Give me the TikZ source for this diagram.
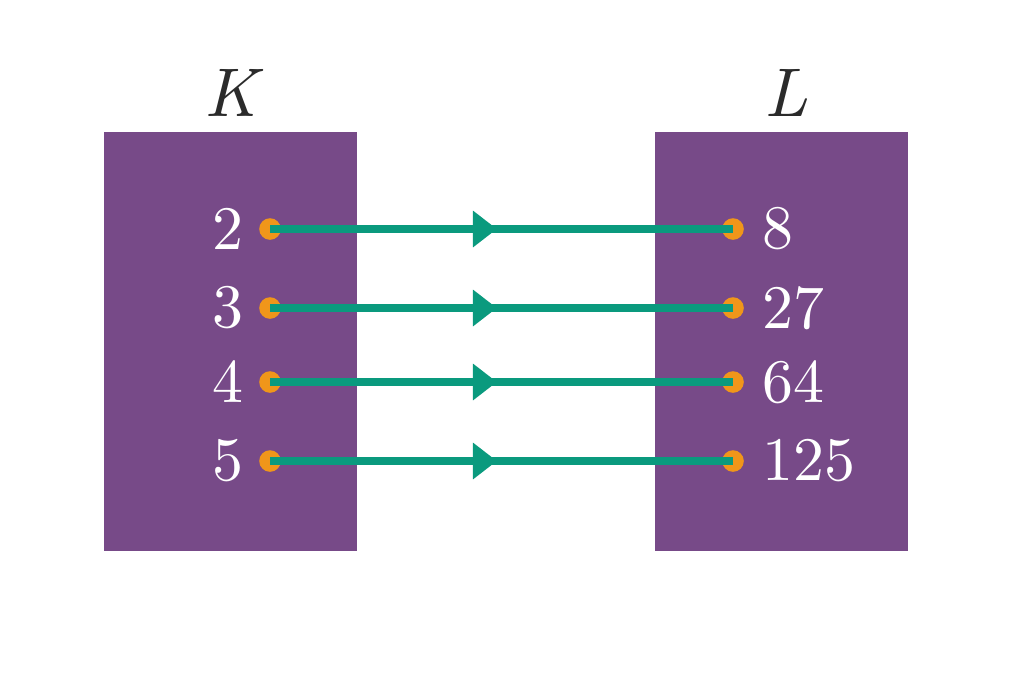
\documentclass[tikz,border=0pt]{standalone}
\usepackage{fontspec}
\newfontfamily\numfont{lmroman10-regular.otf}
\newfontfamily\itfont{lmroman10-italic.otf}
\usetikzlibrary{arrows.meta,decorations.markings}
\definecolor{boxpurple}{HTML}{774A88}
\definecolor{linkgreen}{HTML}{0A9A7E}
\definecolor{dotorange}{HTML}{F0961A}
\definecolor{labelgray}{HTML}{2B2B2B}
\begin{document}
\begin{tikzpicture}[x=0.025cm,y=-0.025cm,
  setbox/.style={fill=boxpurple,draw=none},
  dotnode/.style={circle,fill=dotorange,minimum size=0.54cm,inner sep=0pt},
  numL/.style={text=white,font=\numfont\fontsize{44}{50}\selectfont,anchor=east,inner sep=0pt},
  numR/.style={text=white,font=\numfont\fontsize{44}{50}\selectfont,anchor=west,inner sep=0pt},
  setlabel/.style={text=labelgray,font=\itfont\fontsize{49}{55}\selectfont},
  link/.style={draw=linkgreen,line width=5.4pt,
    postaction={decorate},
    decoration={markings,mark=at position 0.49 with {\arrow[linkgreen]{Triangle[length=17pt,width=25pt]}}}}
]
\useasboundingbox (0,0) rectangle (1023,672);
\fill[setbox] (104,132) rectangle (357,551);
\fill[setbox] (655,132) rectangle (908,551);
\node[setlabel] (K) at (231,93) {K};
\node[setlabel] (L) at (786,93) {L};
\foreach \i/\a/\b/\y in {1/2/8/229,2/3/27/308,3/4/64/382,4/5/125/461}{
  \node[dotnode] (l\i) at (270,\y) {};
  \node[dotnode] (r\i) at (733,\y) {};
  \node[numL] (nl\i) at (244,\y) {\a};
  \node[numR] (nr\i) at (762,\y) {\b};
  \draw[link] (l\i.center) -- (r\i.center);
}
\end{tikzpicture}
\end{document}
